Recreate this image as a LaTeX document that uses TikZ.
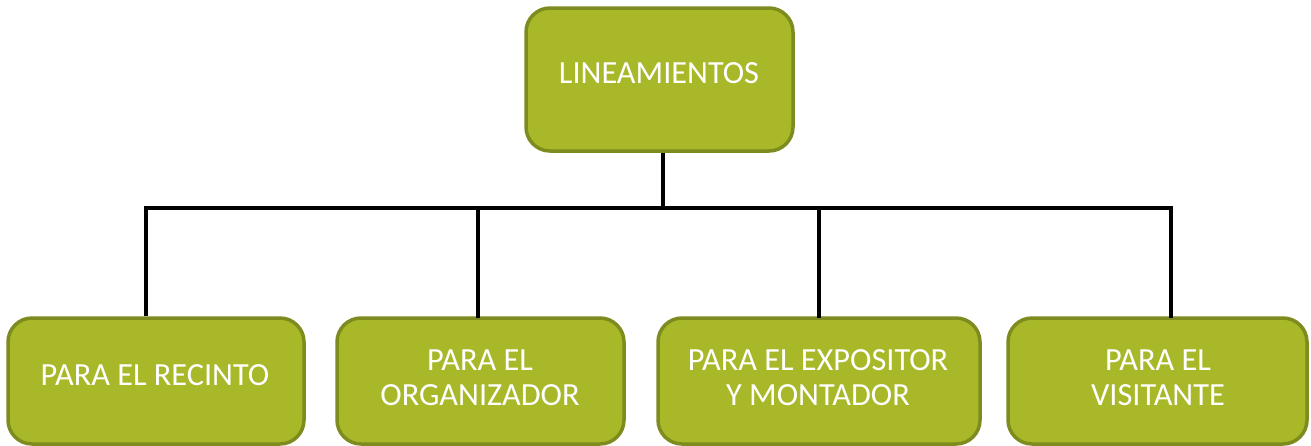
\documentclass[tikz,border=0pt]{standalone}
\usepackage{fontspec}
\setmainfont{Carlito}
\usetikzlibrary{calc}
\definecolor{boxfill}{RGB}{168,184,41}
\definecolor{boxline}{RGB}{126,139,30}
\begin{document}
\begin{tikzpicture}[x=1pt,y=-1pt,
  box/.style={draw=boxline,fill=boxfill,line width=3.5pt,rounded corners=24pt,inner sep=0pt},
  lbl/.style={text=white,font=\fontsize{32.3}{35}\selectfont,align=center,inner sep=0pt},
  conn/.style={line width=3.2pt,black}]
\useasboundingbox (0,0) rectangle (1311,445);
% boxes
\node[box,minimum width=267pt,minimum height=143pt] (top) at (659.5,79.5) {};
\node[box,minimum width=296pt,minimum height=126pt] (b1) at (156,381) {};
\node[box,minimum width=287pt,minimum height=126pt] (b2) at (480.5,381) {};
\node[box,minimum width=322pt,minimum height=126pt] (b3) at (819,381) {};
\node[box,minimum width=299pt,minimum height=126pt] (b4) at (1157.5,381) {};
% labels
\node[lbl] (ttop) at (659,73) {LINEAMIENTOS};
\node[lbl] (t1) at (155,375) {PARA EL RECINTO};
\node[lbl] (t2) at (480,378) {PARA EL\\ORGANIZADOR};
\node[lbl] (t3) at (818,378) {PARA EL EXPOSITOR\\Y MONTADOR};
\node[lbl] (t4) at (1158,378) {PARA EL\\VISITANTE};
% connector coordinates
\coordinate (hub) at (663,208);
\coordinate (h1) at (146,208);
\coordinate (h2) at (478,208);
\coordinate (h3) at (819,208);
\coordinate (h4) at (1171,208);
\coordinate (e1) at (146,316);
\coordinate (e2) at (478,318);
\coordinate (e3) at (819,318);
\coordinate (e4) at (1171,318);
\draw[conn] (top.south -| hub) -- (hub);
\draw[conn] (e1) -- (h1) -- (h4) -- (e4);
\draw[conn] (h2) -- (e2);
\draw[conn] (h3) -- (e3);
\end{tikzpicture}
\end{document}
